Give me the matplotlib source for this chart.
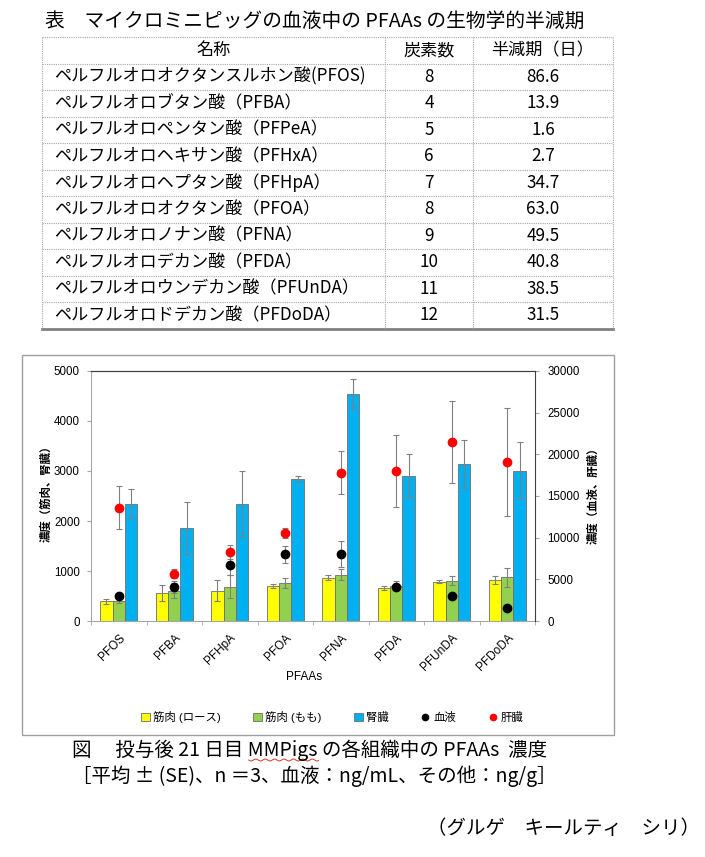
import numpy as np
import matplotlib.pyplot as plt
from matplotlib.patches import Rectangle, Patch
from matplotlib.lines import Line2D

plt.rcParams['font.family'] = ['Liberation Sans', 'Noto Sans CJK JP']
JP = ['Noto Sans CJK JP', 'DejaVu Sans']

# --- table data ---
table_title = '表　マイクロミニピッグの血液中の PFAAs の生物学的半減期'
table_header = ['名称', '炭素数', '半減期（日）']
names = ['ペルフルオロオクタンスルホン酸(PFOS)', 'ペルフルオロブタン酸（PFBA）',
         'ペルフルオロペンタン酸（PFPeA）', 'ペルフルオロヘキサン酸（PFHxA）',
         'ペルフルオロヘプタン酸（PFHpA）', 'ペルフルオロオクタン酸（PFOA）',
         'ペルフルオロノナン酸（PFNA）', 'ペルフルオロデカン酸（PFDA）',
         'ペルフルオロウンデカン酸（PFUnDA）', 'ペルフルオロドデカン酸（PFDoDA）']
carbons = ['8', '4', '5', '6', '7', '8', '9', '10', '11', '12']
half_life = ['86.6', '13.9', '1.6', '2.7', '34.7', '63.0', '49.5', '40.8', '38.5', '31.5']

# --- chart data ---
compounds = ['PFOS', 'PFBA', 'PFHpA', 'PFOA', 'PFNA', 'PFDA', 'PFUnDA', 'PFDoDA']
loin = [400, 560, 610, 700, 870, 660, 790, 830]
loin_se = [50, 160, 210, 40, 50, 40, 30, 80]
thigh = [410, 610, 690, 760, 930, 710, 810, 880]
thigh_se = [40, 150, 230, 100, 110, 90, 90, 190]
kidney = [2350, 1870, 2350, 2840, 4540, 2910, 3150, 3010]
kidney_se = [290, 520, 660, 60, 290, 430, 480, 570]
blood = [3000, 4100, 6700, 8000, 8050, 4100, 3050, 1600]
blood_se = [300, 700, 1200, 1000, 1550, 400, 300, 200]
liver = [13600, 5700, 8300, 10600, 17800, 18000, 21500, 19100]
liver_se = [2600, 500, 800, 600, 2600, 4300, 4900, 6500]

W, H = 705, 857


def fx(px):
    return px / W


def fy(py):
    return 1 - py / H


fig = plt.figure(figsize=(W / 100, H / 100), dpi=100)

# ---------------- table ----------------
fig.text(fx(45), fy(21), table_title, fontsize=14.2, family=JP, va='center', ha='left')

t_left, t_right = 42, 613
col_lines = [385, 473]
row_h = 26.5
top = 37
n_rows = len(names) + 1
bottom = top + row_h * n_rows
grid = dict(color='#a8a8a8', lw=0.8, linestyle=(0, (1, 1)), transform=fig.transFigure)
for i in range(n_rows):
    y = top + row_h * i
    fig.add_artist(Line2D([fx(t_left), fx(t_right)], [fy(y), fy(y)], **grid))
fig.add_artist(Line2D([fx(t_left), fx(t_right)], [fy(bottom), fy(bottom)],
                      color='#808080', lw=2, transform=fig.transFigure))
for xv in [t_left] + col_lines + [t_right]:
    fig.add_artist(Line2D([fx(xv), fx(xv)], [fy(top), fy(bottom)], **grid))

name_c = (t_left + col_lines[0]) / 2
carb_c = (col_lines[0] + col_lines[1]) / 2
half_c = (col_lines[1] + t_right) / 2
hy = top + row_h / 2
fig.text(fx(name_c), fy(hy), table_header[0], fontsize=12.3, family=JP, ha='center', va='center')
fig.text(fx(carb_c), fy(hy), table_header[1], fontsize=12.3, family=JP, ha='center', va='center')
fig.text(fx(half_c), fy(hy), table_header[2], fontsize=12.3, family=JP, ha='center', va='center')
for i in range(len(names)):
    ry = top + row_h * (i + 1.5)
    fig.text(fx(54), fy(ry), names[i], fontsize=12.3, family=JP, ha='left', va='center')
    fig.text(fx(carb_c), fy(ry), carbons[i], fontsize=12.3, family=JP, ha='center', va='center')
    fig.text(fx(half_c), fy(ry), half_life[i], fontsize=12.3, family=JP, ha='center', va='center')

# ---------------- chart ----------------
fig.add_artist(Rectangle((fx(22), fy(735)), (614 - 22) / W, (735 - 355) / H,
                         transform=fig.transFigure, fill=False, edgecolor='#a0a0a0', lw=1))

ax = fig.add_axes([fx(91), fy(621), 444 / W, 250 / H])
x = np.arange(len(compounds))
bw = 0.225
ekw = dict(ecolor='#808080', elinewidth=0.8, capsize=2, capthick=0.8)
ax.bar(x - bw, loin, bw, yerr=loin_se, color='#FFFF00', edgecolor='#6e6e6e', lw=0.6,
       error_kw=ekw, label='筋肉 (ロース)')
ax.bar(x, thigh, bw, yerr=thigh_se, color='#92D050', edgecolor='#6e6e6e', lw=0.6,
       error_kw=ekw, label='筋肉 (もも)')
ax.bar(x + bw, kidney, bw, yerr=kidney_se, color='#00B0F0', edgecolor='#6e6e6e', lw=0.6,
       error_kw=ekw, label='腎臓')
ax.set_xlim(-0.5, len(compounds) - 0.5)
ax.set_ylim(0, 5000)
ax.set_yticks(np.arange(0, 5001, 1000))
ax.set_xticks(x)
ax.set_xticklabels(compounds, rotation=45, ha='right', rotation_mode='anchor')
ax.set_xticks(np.arange(-0.5, len(compounds), 1), minor=True)
ax.tick_params(axis='x', which='major', length=0, pad=8, labelsize=8.5)
ax.tick_params(axis='x', which='minor', length=3, color='#a6a6a6')
ax.tick_params(axis='y', length=3, color='#a6a6a6', labelsize=8.3, pad=5)
ax.spines['left'].set_color('#a6a6a6')
ax.spines['bottom'].set_color('#a6a6a6')
ax.spines['top'].set_color('#404040')
ax.spines['right'].set_visible(False)

ax2 = ax.twinx()
ax2.errorbar(x, blood, yerr=blood_se, fmt='o', color='black', ms=6, **ekw, label='血液')
ax2.errorbar(x, liver, yerr=liver_se, fmt='o', color='#FF0000', ms=6, **ekw, label='肝臓')
ax2.set_ylim(0, 30000)
ax2.set_yticks(np.arange(0, 30001, 5000))
ax2.tick_params(axis='y', length=3, color='#a6a6a6', labelsize=8.3, pad=6)
ax2.spines['right'].set_color('#404040')
ax2.spines['top'].set_color('#404040')
ax2.spines['left'].set_visible(False)
ax2.spines['bottom'].set_visible(False)

fig.text(fx(304), fy(677), 'PFAAs', fontsize=8.5, ha='center', va='center')
fig.text(fx(46), fy(491), '濃度（筋肉、腎臓）', fontsize=8.2, rotation=90,
         ha='center', va='center', fontweight='bold')
fig.text(fx(593), fy(493), '濃度（血液、肝臓）', fontsize=8.2, rotation=90,
         ha='center', va='center', fontweight='bold')

handles = [Patch(facecolor='#FFFF00', edgecolor='#6e6e6e', lw=0.6),
           Patch(facecolor='#92D050', edgecolor='#6e6e6e', lw=0.6),
           Patch(facecolor='#00B0F0', edgecolor='#6e6e6e', lw=0.6),
           Line2D([], [], marker='o', color='black', linestyle='None', ms=4.5),
           Line2D([], [], marker='o', color='#FF0000', linestyle='None', ms=4.5)]
labels = ['筋肉 (ロース)', '筋肉 (もも)', '腎臓', '血液', '肝臓']
fig.legend(handles, labels, loc='center', bbox_to_anchor=(fx(332), fy(717)), ncol=5,
           frameon=False, fontsize=8.2, columnspacing=2.8, handlelength=0.8,
           handleheight=0.8, handletextpad=0.3)

# ---------------- caption ----------------
cap1_pre = '図　 投与後 21 日目 '
cap1_mid = 'MMPigs'
cap1_post = ' の各組織中の PFAAs  濃度'
cfs = 14
cx, cy = fx(72), fy(756)
fig.text(cx, cy, cap1_pre + cap1_mid + cap1_post, fontsize=cfs, family=JP,
         ha='left', va='baseline')
renderer = fig.canvas.get_renderer()
tmp = fig.text(cx, cy, cap1_pre.rstrip() + '.', fontsize=cfs, family=JP, ha='left', va='baseline')
w_pre = tmp.get_window_extent(renderer).width
tmp.remove()
tmp = fig.text(cx, cy, cap1_mid, fontsize=cfs, family=JP, ha='left', va='baseline')
w_mid = tmp.get_window_extent(renderer).width
tmp.remove()
x0 = 72 + w_pre
xs = np.linspace(x0, x0 + w_mid, 60)
ys = 760 + 1.0 * np.sin((xs - x0) / 1.5)
fig.add_artist(Line2D(fx(xs), fy(ys), color='#e03030', lw=0.7, transform=fig.transFigure))

fig.text(fx(72), fy(782), '［平均 ± (SE)、n ＝3、血液：ng/mL、その他：ng/g］', fontsize=cfs,
         family=JP, ha='left', va='baseline')
fig.text(fx(700), fy(828), '（グルゲ　キールティ　シリ）', fontsize=cfs, family=JP,
         ha='right', va='center')

fig.savefig('out.png', dpi=100)
